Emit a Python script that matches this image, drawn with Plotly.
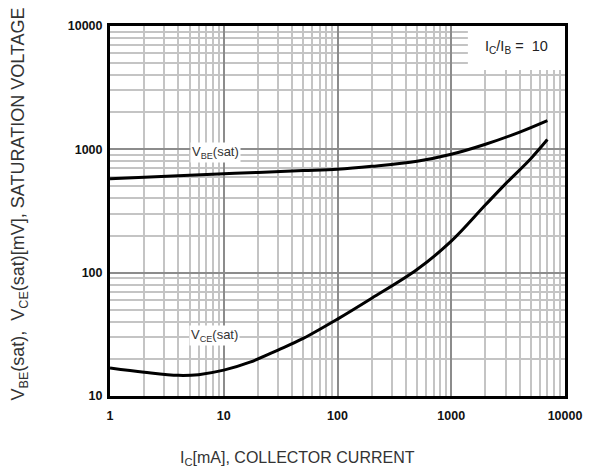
import plotly.graph_objects as go

# Data
ic_vbe = [1, 2, 5, 10, 20, 50, 100, 200, 500, 1000, 2000, 4000, 7000]
vbe_sat = [578, 595, 615, 634, 650, 672, 690, 728, 800, 912, 1100, 1380, 1710]

ic_vce = [1, 2, 4, 6, 10, 17, 30, 50, 100, 200, 500, 1000, 2000, 3000, 5000, 7000]
vce_sat = [16.9, 15.6, 14.7, 14.9, 16.2, 18.8, 23.6, 29.3, 42, 62, 106, 180, 355, 525, 840, 1200]

x_ticks = [1, 10, 100, 1000, 10000]
x_tick_text = ["1", "10", "100", "1000", "10000"]
y_ticks = [10, 100, 1000, 10000]
y_tick_text = ["10", "100", "1000", "10000"]

FONT = "Liberation Sans, Arial, sans-serif"

fig = go.Figure()
line_style = dict(color="black", width=3, shape="spline", smoothing=1)
fig.add_trace(go.Scatter(x=ic_vbe, y=vbe_sat, mode="lines", line=line_style, showlegend=False))
fig.add_trace(go.Scatter(x=ic_vce, y=vce_sat, mode="lines", line=line_style, showlegend=False))

# white area behind the ratio label (covers gridlines)
fig.add_shape(type="rect", xref="x", yref="y", x0=1400, x1=10000, y0=4400, y1=10000,
              fillcolor="white", line=dict(width=0), layer="between")

fig.add_annotation(x=0.925, y=2.975, xref="x", yref="y", text="V<sub>BE</sub>(sat)",
                   showarrow=False, bgcolor="white", font=dict(family=FONT, size=13, color="#333"))
fig.add_annotation(x=0.915, y=1.49, xref="x", yref="y", text="V<sub>CE</sub>(sat)",
                   showarrow=False, bgcolor="white", font=dict(family=FONT, size=13, color="#333"))
fig.add_annotation(x=3.57, y=3.83, xref="x", yref="y", text="I<sub>C</sub>/I<sub>B</sub> =  10",
                   showarrow=False, font=dict(family=FONT, size=14.5, color="#222"))

fig.add_annotation(x=0.411, y=-0.1676, xref="paper", yref="paper",
                   xanchor="center", yanchor="middle",
                   text="I<sub>C</sub>[mA], COLLECTOR CURRENT", showarrow=False,
                   font=dict(family=FONT, size=16, color="#333"))
fig.add_annotation(x=-0.198, y=0.52, xref="paper", yref="paper", textangle=-90,
                   xanchor="center", yanchor="middle",
                   text="V<sub>BE</sub>(sat),  V<sub>CE</sub>(sat)[mV], SATURATION VOLTAGE",
                   showarrow=False, font=dict(family=FONT, size=18, color="#333"))

axis_common = dict(
    type="log", showline=True, linewidth=3, linecolor="black", mirror=True,
    showgrid=True, gridcolor="#8c8c8c", gridwidth=2, ticks="", zeroline=False,
    tickfont=dict(family=FONT, size=12.5, color="#111", weight="bold"),
    minor=dict(showgrid=True, gridcolor="#c4c4c4", gridwidth=1.5, dtick="D1", ticks=""),
)
fig.update_xaxes(range=[0, 4], tickvals=x_ticks, ticktext=x_tick_text, ticklabelstandoff=6, **axis_common)
fig.update_yaxes(range=[1, 4], tickvals=y_ticks, ticktext=y_tick_text, ticklabelstandoff=2, **axis_common)

fig.update_layout(
    width=593, height=475,
    margin=dict(l=102, r=36, t=18, b=87),
    paper_bgcolor="white", plot_bgcolor="white",
    font=dict(family=FONT),
)

fig.write_html("out.html")
